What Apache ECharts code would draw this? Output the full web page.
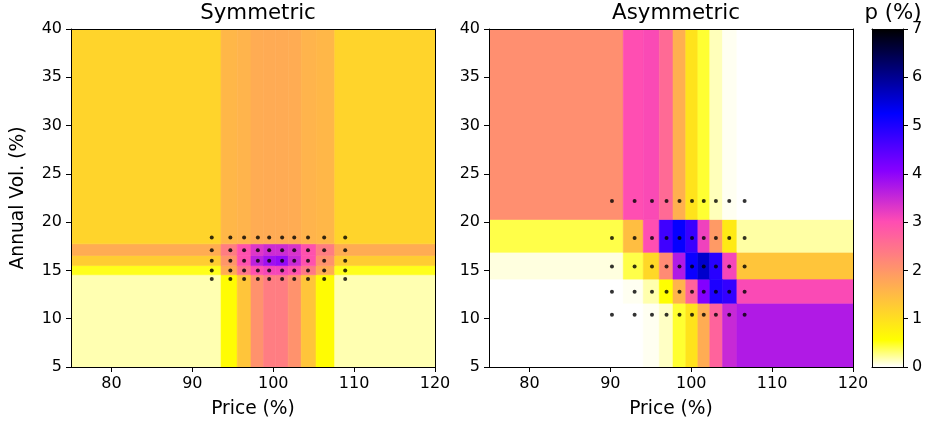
<!DOCTYPE html>
<html><head><meta charset="utf-8">
<script src="https://cdn.jsdelivr.net/npm/echarts@6/dist/echarts.min.js"></script>
<style>html,body{margin:0;padding:0;background:#fff}#c{width:934px;height:430px}</style>
</head><body><div id="c"></div>
<script>
// ---- data ----
const priceTicks = [80, 90, 100, 110, 120];
const volTicks = [5, 10, 15, 20, 25, 30, 35, 40];
const pTicks = [0, 1, 2, 3, 4, 5, 6, 7];

const symStrikes = [92.4, 94.7, 96.4, 98.1, 99.5, 101.1, 102.6, 104.3, 106.3, 108.9];
const symVols = [14.1, 15.0, 16.0, 17.1, 18.4];
const symP = [
  [0.17, 0.6, 1.35, 2.05, 2.35, 2.35, 2.05, 1.35, 0.6, 0.17],
  [0.5, 1.7, 2.45, 2.95, 3.1, 3.1, 2.95, 2.4, 1.7, 0.5],
  [1.25, 2.0, 2.95, 3.6, 3.85, 3.95, 3.5, 2.95, 2.05, 1.25],
  [1.7, 2.35, 2.95, 3.3, 3.45, 3.45, 3.35, 2.95, 2.35, 1.7],
  [1.15, 1.55, 1.6, 1.7, 1.72, 1.72, 1.7, 1.6, 1.55, 1.15]
];

const asymStrikes = [90.2, 93.0, 95.15, 96.95, 98.55, 100.1, 101.55, 103.05, 104.7, 106.6];
const asymVols = [10.4, 12.8, 15.4, 18.35, 22.2];
const asymP = [
  [0.0, 0.0, 0.03, 0.13, 0.45, 0.95, 1.7, 2.7, 3.5, 3.7],
  [0.0, 0.03, 0.18, 0.56, 1.6, 2.7, 4.1, 5.0, 4.8, 3.05],
  [0.07, 0.4, 1.1, 2.15, 3.7, 5.15, 5.6, 4.9, 3.1, 1.35],
  [0.4, 1.45, 3.0, 4.7, 5.2, 4.75, 3.15, 1.95, 0.85, 0.2],
  [2.1, 3.0, 3.05, 2.6, 1.65, 0.95, 0.45, 0.15, 0.03, 0.0]
];

const priceMin = 75, priceMax = 120, volMin = 5, volMax = 40, pMin = 0, pMax = 7;

// ---- helpers ----
function edges(pts, lo, hi) {
  const e = [lo];
  for (let i = 0; i < pts.length - 1; i++) e.push((pts[i] + pts[i + 1]) / 2);
  e.push(hi);
  return e;
}
function cells(strikes, vols, P) {
  const xe = edges(strikes, priceMin, priceMax), ye = edges(vols, volMin, volMax);
  const out = [];
  for (let j = 0; j < vols.length; j++)
    for (let i = 0; i < strikes.length; i++)
      out.push([xe[i], xe[i + 1], ye[j], ye[j + 1], P[j][i]]);
  return out;
}
function dots(strikes, vols) {
  const out = [];
  vols.forEach(v => strikes.forEach(s => out.push([s, v])));
  return out;
}
function clip01(v) { return Math.max(0, Math.min(1, v)); }
function gnuplot2(x) {
  const r = clip01(x / 0.32 - 0.78125);
  const g = clip01(2 * x - 0.84);
  let b;
  if (x < 0.25) b = 4 * x; else if (x < 0.42) b = 1; else if (x < 0.92) b = -2 * x + 1.84; else b = x / 0.08 - 11.5;
  b = clip01(b);
  const h = v => Math.round(v * 255).toString(16).padStart(2, '0');
  return '#' + h(r) + h(g) + h(b);
}
const N = 200;
const cmap = [], gradStops = [];
for (let i = 0; i <= N; i++) {
  const t = i / N;
  const c = gnuplot2(1 - t);
  cmap.push(c);
  gradStops.push({ offset: t, color: c });
}

const FONT = 'DejaVu Sans';
const BLACK = '#000';
const TICK_FS = 16, LABEL_FS = 18.67, TITLE_FS = 21.33;

function rectItem(params, api) {
  const a = api.coord([api.value(0), api.value(3)]);
  const b = api.coord([api.value(1), api.value(2)]);
  const col = api.visual('color');
  return {
    type: 'rect',
    shape: { x: a[0], y: a[1], width: b[0] - a[0], height: b[1] - a[1] },
    style: { fill: col, stroke: col, lineWidth: 0.6 }
  };
}
function colorbarItem(params, api) {
  const a = api.coord([0, pMax]);
  const b = api.coord([1, pMin]);
  return {
    type: 'rect',
    shape: { x: a[0], y: a[1], width: b[0] - a[0], height: b[1] - a[1] },
    style: { fill: new echarts.graphic.LinearGradient(0, 1, 0, 0, gradStops) }
  };
}

const lineStyle = { color: BLACK, width: 1 };
const labelStyle = { color: BLACK, fontSize: TICK_FS, fontFamily: FONT };

function mainX(gi, showName) {
  return {
    gridIndex: gi, type: 'value', min: priceMin, max: priceMax, z: 10,
    name: showName ? 'Price (%)' : '', nameLocation: 'middle', nameGap: 33,
    nameTextStyle: { color: BLACK, fontSize: LABEL_FS, fontFamily: FONT },
    axisLine: { show: true, onZero: false, lineStyle },
    axisTick: { show: true, length: 5, lineStyle, customValues: priceTicks },
    axisLabel: { ...labelStyle, margin: 9, customValues: priceTicks },
    splitLine: { show: false }
  };
}
function frameAxis(gi, pos, min, max) {
  return {
    gridIndex: gi, type: 'value', position: pos, min, max, z: 10,
    axisLine: { show: true, onZero: false, lineStyle },
    axisTick: { show: false }, axisLabel: { show: false }, splitLine: { show: false }
  };
}
function mainY(gi, showName) {
  return {
    gridIndex: gi, type: 'value', min: volMin, max: volMax, interval: 5, z: 10,
    name: showName ? 'Annual Vol. (%)' : '', nameLocation: 'middle', nameGap: 43,
    nameTextStyle: { color: BLACK, fontSize: LABEL_FS, fontFamily: FONT },
    axisLine: { show: true, onZero: false, lineStyle },
    axisTick: { show: true, length: 5, lineStyle },
    axisLabel: { ...labelStyle, margin: 9 },
    splitLine: { show: false }
  };
}
const titleStyle = { fontSize: TITLE_FS, fontWeight: 'normal', color: BLACK, fontFamily: FONT };

const option = {
  animation: false,
  backgroundColor: '#fff',
  textStyle: { fontFamily: FONT },
  title: [
    { text: 'Symmetric', left: 253, top: -2, textAlign: 'center', textStyle: titleStyle },
    { text: 'Asymmetric', left: 671, top: -2, textAlign: 'center', textStyle: titleStyle },
    { text: 'p (%)', left: 888, top: -2, textAlign: 'center', textStyle: titleStyle }
  ],
  grid: [
    { left: 71, top: 29, width: 364, height: 338 },
    { left: 489, top: 29, width: 364, height: 338 },
    { left: 872, top: 29, width: 31, height: 338 }
  ],
  xAxis: [
    mainX(0, true), frameAxis(0, 'top', priceMin, priceMax),
    mainX(1, true), frameAxis(1, 'top', priceMin, priceMax),
    frameAxis(2, 'bottom', 0, 1), frameAxis(2, 'top', 0, 1)
  ],
  yAxis: [
    mainY(0, true), frameAxis(0, 'right', volMin, volMax),
    mainY(1, false), frameAxis(1, 'right', volMin, volMax),
    frameAxis(2, 'left', pMin, pMax),
    {
      gridIndex: 2, type: 'value', position: 'right', min: pMin, max: pMax, interval: 1, z: 10,
      axisLine: { show: true, onZero: false, lineStyle },
      axisTick: { show: true, length: 5, lineStyle },
      axisLabel: { ...labelStyle, margin: 9 },
      splitLine: { show: false }
    }
  ],
  visualMap: {
    type: 'continuous', show: false, min: pMin, max: pMax, dimension: 4,
    seriesIndex: [0, 2], inRange: { color: cmap }
  },
  series: [
    { type: 'custom', xAxisIndex: 0, yAxisIndex: 0, clip: true, silent: true,
      encode: { x: [0, 1], y: [2, 3] }, data: cells(symStrikes, symVols, symP), renderItem: rectItem },
    { type: 'scatter', xAxisIndex: 0, yAxisIndex: 0, silent: true, symbolSize: 4, z: 5,
      itemStyle: { color: BLACK }, data: dots(symStrikes, symVols) },
    { type: 'custom', xAxisIndex: 2, yAxisIndex: 2, clip: true, silent: true,
      encode: { x: [0, 1], y: [2, 3] }, data: cells(asymStrikes, asymVols, asymP), renderItem: rectItem },
    { type: 'scatter', xAxisIndex: 2, yAxisIndex: 2, silent: true, symbolSize: 4, z: 5,
      itemStyle: { color: BLACK }, data: dots(asymStrikes, asymVols) },
    { type: 'custom', xAxisIndex: 4, yAxisIndex: 5, silent: true,
      data: [[0, 1, pMin, pMax]], renderItem: colorbarItem }
  ]
};
const chart = echarts.init(document.getElementById('c'), null, { renderer: 'canvas' });
chart.setOption(option);
</script></body></html>
